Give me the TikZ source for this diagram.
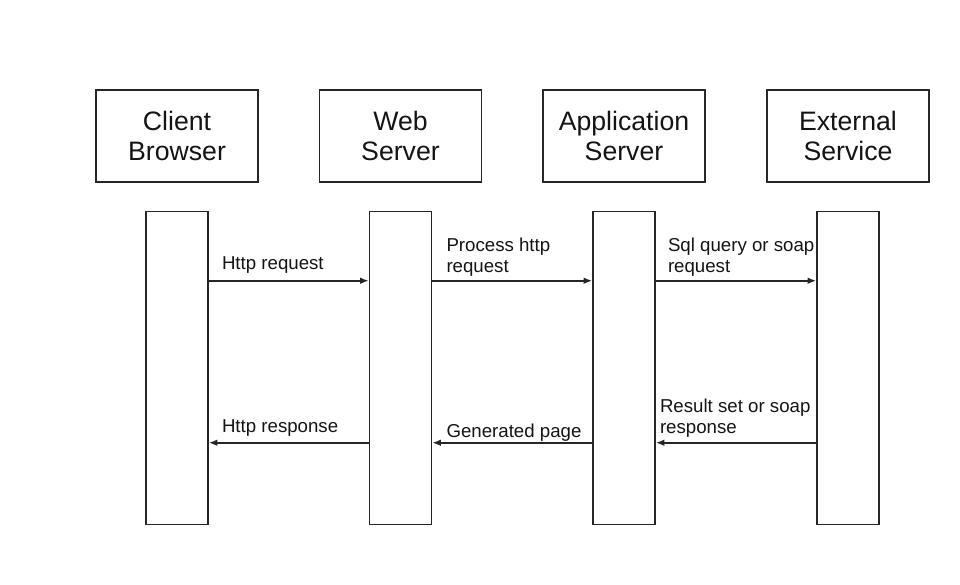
\documentclass[tikz,border=0pt]{standalone}
\usepackage{fontspec}
\setmainfont{Liberation Sans}
\usetikzlibrary{arrows.meta, positioning, calc}
\definecolor{LN}{RGB}{38,38,38}
\definecolor{TX}{RGB}{20,20,20}

\begin{document}
\begin{tikzpicture}[x=0.75pt, y=-0.75pt,
  actor/.style={draw=LN, line width=1.1pt, minimum width=121.5pt,
                minimum height=69pt, align=center, text=TX,
                font=\fontsize{20}{22.5}\selectfont},
  bar/.style={draw=LN, line width=1.1pt, minimum width=46.5pt,
              minimum height=234.75pt},
  lbl/.style={anchor=base west, align=left, inner sep=0pt, text=TX,
              font=\fontsize{14}{15.75}\selectfont},
  msg/.style={-{Latex[length=6.5pt, width=5pt]}, line width=1.4pt, draw=LN}
]
\useasboundingbox (0,0) rectangle (960,585);

% participants
\node[actor] (cb) at (177,136) {Client\\Browser};
\node[actor] (ws) at (400.5,136) {Web\\Server};
\node[actor] (as) at (624,136) {Application\\Server};
\node[actor] (es) at (848,136) {External\\Service};

% lifeline bars
\node[bar, below=21pt of cb] (cbbar) {};
\node[bar, below=21pt of ws] (wsbar) {};
\node[bar, below=21pt of as] (asbar) {};
\node[bar, below=21pt of es] (esbar) {};

% requests
\draw[msg] ($(cbbar.north east)+(0,70)$) -- ($(wsbar.north west)+(0,70)$);
\draw[msg] ($(wsbar.north east)+(0,70)$) -- ($(asbar.north west)+(0,70)$);
\draw[msg] ($(asbar.north east)+(0,70)$) -- ($(esbar.north west)+(0,70)$);
\node[lbl] (lhttpreq) at ($(cbbar.north east)+(13,59)$) {Http request};
\node[lbl] (lprocreq) at ($(wsbar.north east)+(14,62)$) {Process http\\request};
\node[lbl] (lsqlreq) at ($(asbar.north east)+(12,62)$) {Sql query or soap\\request};

% responses
\draw[msg] ($(wsbar.north west)+(0,232)$) -- ($(cbbar.north east)+(0,232)$);
\draw[msg] ($(asbar.north west)+(0,232)$) -- ($(wsbar.north east)+(0,232)$);
\draw[msg] ($(esbar.north west)+(0,232)$) -- ($(asbar.north east)+(0,232)$);
\node[lbl] (lhttpres) at ($(cbbar.north east)+(13,222)$) {Http response};
\node[lbl] (lgenpage) at ($(wsbar.north east)+(14,227)$) {Generated page};
\node[lbl] (lresset) at ($(asbar.north east)+(4,223)$) {Result set or soap\\response};
\end{tikzpicture}
\end{document}
